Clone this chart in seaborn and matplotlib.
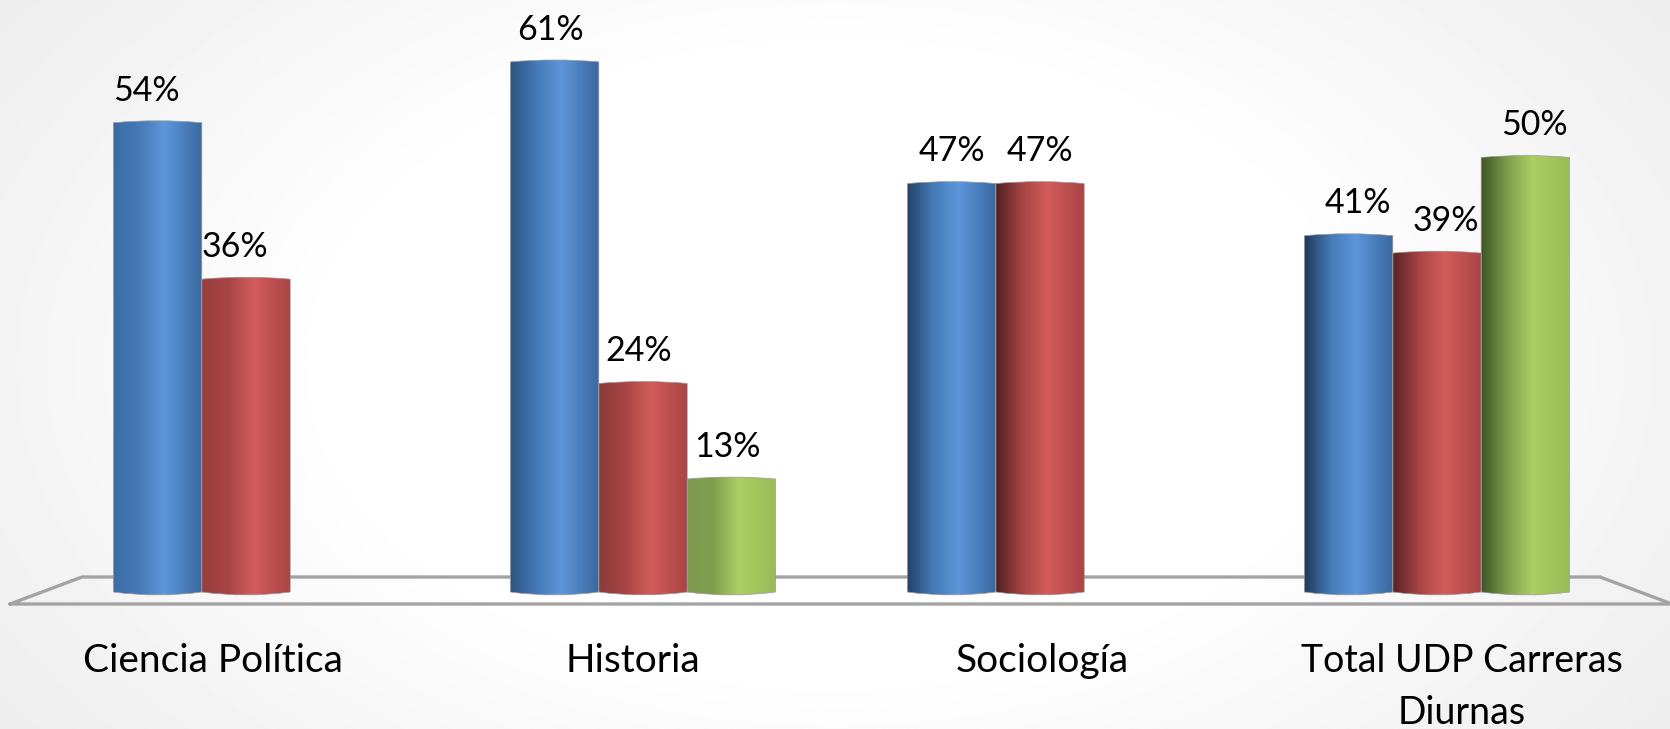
import numpy as np
import pandas as pd
import matplotlib
matplotlib.use('Agg')
import matplotlib.pyplot as plt
import seaborn as sns
from matplotlib.colors import LinearSegmentedColormap
from matplotlib.lines import Line2D
from matplotlib.path import Path
from matplotlib.patches import PathPatch
from matplotlib.transforms import ScaledTranslation

# Data
carreras = ['Ciencia Política', 'Historia', 'Sociología', 'Total UDP Carreras\nDiurnas']
serie_a = [54, 61, 47, 41]
serie_b = [36, 24, 47, 39]
serie_c = [None, 13, None, 50]

W, H = 1670, 729
BASE_PX = 592
PX_PER_PCT = 8.69

sns.set_theme(style='white')
plt.rcParams['font.family'] = ['Lato', 'DejaVu Sans']

df = pd.DataFrame({
    'carrera': carreras * 3,
    'serie': ['a'] * 4 + ['b'] * 4 + ['c'] * 4,
    'valor': serie_a + serie_b + serie_c,
})

fig = plt.figure(figsize=(W / 100, H / 100), dpi=100)

# light radial background
bg = fig.add_axes([0, 0, 1, 1], zorder=-1)
yy, xx = np.mgrid[-1:1:400j, -1:1:800j]
r = np.sqrt(xx ** 2 + 0.5 * yy ** 2)
shade = 1 - 0.07 * np.clip((r - 0.6) / 0.62, 0, 1)
bg.imshow(shade, cmap='gray', vmin=0, vmax=1, aspect='auto')
bg.axis('off')

ax = fig.add_axes([0, (H - BASE_PX) / H, 1, BASE_PX / H])
ax.patch.set_alpha(0)
sns.barplot(data=df, x='carrera', y='valor', hue='serie', order=carreras,
            hue_order=['a', 'b', 'c'], width=0.668, legend=False, ax=ax)

px_per_cat = (1437 - 246) / 3
xlim = (-246 / px_per_cat, (W - 246) / px_per_cat)
ylim = (0, BASE_PX / PX_PER_PCT)

# edge colours of the cylinders, the left side gets darker across the chart
izq = {
    'a': ['#3a6ba6', '#2c5380', '#24426a', '#1f3857'],
    'b': ['#983d3d', '#8c3a3a', '#4f2020', '#592222'],
    'c': ['#7d9a4e', '#7d9a4e', '#7d9a4e', '#3d5524'],
}
medio = {'a': '#467ab8', 'b': '#a94545', 'c': '#7f9f4e'}
claro = {'a': '#5f96da', 'b': '#d25c5c', 'c': '#abcf64'}
lado = {'a': '#4c80c0', 'b': '#c05050', 'c': '#a2c55c'}
der = {'a': '#3a689e', 'b': '#a84444', 'c': '#9abc58'}

gap_top = 2 / PX_PER_PCT
gap_bot = 3 / PX_PER_PCT
label_dx = [-11, -4, 0, 9]

for bar in list(ax.patches):
    h = bar.get_height()
    if not h or np.isnan(h):
        continue
    x0, w = bar.get_x(), bar.get_width()
    cx = x0 + w / 2
    cat = int(round(cx))
    key = 'abc'[int(round((cx - cat) / w)) + 1]
    cmap = LinearSegmentedColormap.from_list(
        'cil', [(0, izq[key][cat]), (0.3, medio[key]), (0.58, claro[key]),
                (0.78, lado[key]), (1, der[key])])
    verts = [(x0, 0), (cx, -2 * gap_bot), (x0 + w, 0), (x0 + w, h),
             (cx, h + 2 * gap_top), (x0, h), (x0, 0)]
    codes = [Path.MOVETO, Path.CURVE3, Path.CURVE3, Path.LINETO,
             Path.CURVE3, Path.CURVE3, Path.CLOSEPOLY]
    clip = PathPatch(Path(verts, codes), transform=ax.transData, fc='none',
                     ec='#9a9a9a', lw=0.5, zorder=3, clip_on=False)
    ax.add_patch(clip)
    img = ax.imshow(np.linspace(0, 1, 256)[None, :], cmap=cmap, aspect='auto',
                    extent=(x0, x0 + w, -1, h + 1), zorder=2.5)
    img.set_clip_path(clip)
    img.set_clip_box(fig.bbox)
    bar.set_visible(False)
    ax.annotate(f'{h:.0f}%', (cx, h), xytext=(label_dx[cat] * 0.72, 16),
                textcoords='offset points', ha='center', va='baseline',
                fontsize=24.5, color='black', annotation_clip=False)

ax.set_xlim(xlim)
ax.set_ylim(ylim)
ax.set_xlabel('')
ax.set_ylabel('')
ax.set_yticks([])
sns.despine(ax=ax, left=True, bottom=True)

# floor of the 3D plot, pixel positions of the reference
floor_x = np.array([10, 82, 1600, W + 2, 10]) / W
floor_y = 1 - np.array([604, 577, 577, 604, 604]) / H
fig.add_artist(Line2D(floor_x, floor_y, color='#a3a3a3', lw=2.4, zorder=0.5,
                      solid_joinstyle='miter'))
ax.set_zorder(1)

# labels sit a bit off the group centres
tick_dx = [-33, -10, 2, 25]
tick_size = [28, 28, 28, 27]
ax.tick_params(axis='x', length=0, pad=37, labelcolor='black')
for lab, dx, size in zip(ax.get_xticklabels(), tick_dx, tick_size):
    lab.set_fontsize(size)
    lab.set_linespacing(1.55)
    lab.set_transform(lab.get_transform() + ScaledTranslation(dx / 100, 0, fig.dpi_scale_trans))

fig.savefig('out.png', dpi=100)
